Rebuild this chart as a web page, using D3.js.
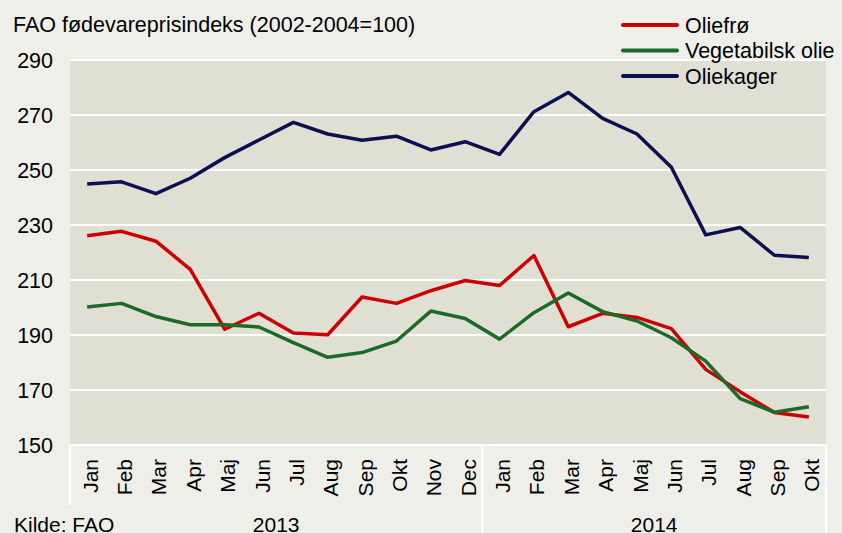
<!DOCTYPE html>
<html>
<head>
<meta charset="utf-8">
<script src="https://cdn.jsdelivr.net/npm/d3@7"></script>
<style>
  html, body { margin: 0; padding: 0; background: #efefe9; }
  svg { display: block; font-family: "Liberation Sans", Arial, sans-serif; }
</style>
</head>
<body>
<div id="chart"></div>
<script>
// Data
const months = ["Jan","Feb","Mar","Apr","Maj","Jun","Jul","Aug","Sep","Okt","Nov","Dec",
                "Jan","Feb","Mar","Apr","Maj","Jun","Jul","Aug","Sep","Okt"];
const years = ["2013", "2014"];
const monthsPerYear = [12, 10];
const yTicks = [150, 170, 190, 210, 230, 250, 270, 290];

const oliefro   = [226.1,227.7,224.1,213.9,192.1,197.9,190.7,190.1,203.8,201.5,206.1,209.8,
                   208.0,218.9,193.0,197.9,196.4,192.3,177.5,169.4,161.8,160.2];
const vegOlie   = [200.2,201.5,196.7,193.7,193.7,192.9,187.2,181.9,183.6,187.8,198.7,196.0,
                   188.5,198.1,205.3,198.5,195.1,189.0,180.5,166.9,161.9,163.9];
const oliekager = [244.9,245.7,241.4,247.0,254.5,260.9,267.3,263.1,260.8,262.3,257.3,260.3,
                   255.7,271.2,278.2,268.8,263.1,251.0,226.4,229.1,219.0,218.2];

const series = [
  { name: "Oliefrø", values: oliefro, color: "#cc0000" },
  { name: "Vegetabilsk olie", values: vegOlie, color: "#1b6b27" },
  { name: "Oliekager", values: oliekager, color: "#0b1150" }
];

// SVG setup
const width = 842;
const height = 533;
const plot = { left: 70, right: 826, top: 60, bottom: 445 };
const fs = '21.5px';

const svg = d3.select('#chart')
  .append('svg')
  .attr('width', width)
  .attr('height', height);

svg.append('rect')
  .attr('width', width).attr('height', height)
  .attr('fill', '#efefe9');

// Scales
const x = d3.scaleBand()
  .domain(d3.range(months.length))
  .range([plot.left, plot.right]);

const y = d3.scaleLinear()
  .domain([150, 290])
  .range([plot.bottom, plot.top]);

// Plot background
svg.append('rect')
  .attr('x', plot.left).attr('y', plot.top)
  .attr('width', plot.right - plot.left)
  .attr('height', plot.bottom - plot.top)
  .attr('fill', '#dfdfd4');

// Gridlines
svg.selectAll('.grid')
  .data(yTicks)
  .enter()
  .append('line')
  .attr('class', 'grid')
  .attr('x1', plot.left).attr('x2', plot.right)
  .attr('y1', d => y(d)).attr('y2', d => y(d))
  .attr('stroke', '#ffffff')
  .attr('stroke-width', 2);

// Y labels
svg.selectAll('.ylab')
  .data(yTicks)
  .enter()
  .append('text')
  .attr('class', 'ylab')
  .attr('x', 53)
  .attr('y', d => y(d))
  .attr('dy', '0.36em')
  .attr('text-anchor', 'end')
  .style('font-size', fs)
  .attr('fill', '#000')
  .text(d => d);

// Category separators in x-axis area
let cum = 0;
const yearBounds = monthsPerYear.map(n => {
  const start = cum;
  cum += n;
  return { start, end: cum - 1 };
});

svg.append('line')
  .attr('x1', plot.left).attr('x2', plot.left)
  .attr('y1', plot.bottom).attr('y2', 505)
  .attr('stroke', '#ffffff').attr('stroke-width', 2);

yearBounds.forEach(b => {
  const xe = x(b.end) + x.bandwidth();
  svg.append('line')
    .attr('x1', xe).attr('x2', xe)
    .attr('y1', plot.bottom).attr('y2', height)
    .attr('stroke', '#ffffff').attr('stroke-width', 2);
});

// Month labels
svg.selectAll('.mlab')
  .data(months)
  .enter()
  .append('text')
  .attr('class', 'mlab')
  .attr('transform', (d, i) => `translate(${x(i) + x.bandwidth() / 2}, 459) rotate(-90)`)
  .attr('dy', '0.5em')
  .attr('text-anchor', 'end')
  .style('font-size', '21px')
  .text(d => d);

// Year labels
svg.selectAll('.yearlab')
  .data(years)
  .enter()
  .append('text')
  .attr('class', 'yearlab')
  .attr('x', (d, i) => (x(yearBounds[i].start) + x(yearBounds[i].end) + x.bandwidth()) / 2)
  .attr('y', 532)
  .attr('text-anchor', 'middle')
  .style('font-size', '21px')
  .text(d => d);

svg.append('text')
  .attr('x', 14).attr('y', 532)
  .style('font-size', '21px')
  .text('Kilde: FAO');

// Lines
const line = d3.line()
  .x((d, i) => x(i) + x.bandwidth() / 2)
  .y(d => y(d));

svg.selectAll('.series')
  .data(series)
  .enter()
  .append('path')
  .attr('class', 'series')
  .attr('d', d => line(d.values))
  .attr('fill', 'none')
  .attr('stroke', d => d.color)
  .attr('stroke-width', 3.5)
  .attr('stroke-linejoin', 'round');

// Title
svg.append('text')
  .attr('x', 13).attr('y', 32)
  .style('font-size', fs)
  .text('FAO fødevareprisindeks (2002-2004=100)');

// Legend
const legend = svg.selectAll('.legend')
  .data(series)
  .enter()
  .append('g')
  .attr('class', 'legend')
  .attr('transform', (d, i) => `translate(623, ${25 + i * 25.5})`);

legend.append('line')
  .attr('x1', 0).attr('x2', 54)
  .attr('stroke', d => d.color)
  .attr('stroke-width', 4)
  .attr('stroke-linecap', 'round');

legend.append('text')
  .attr('x', 62)
  .attr('dy', '0.36em')
  .style('font-size', fs)
  .text(d => d.name);
</script>
</body>
</html>
